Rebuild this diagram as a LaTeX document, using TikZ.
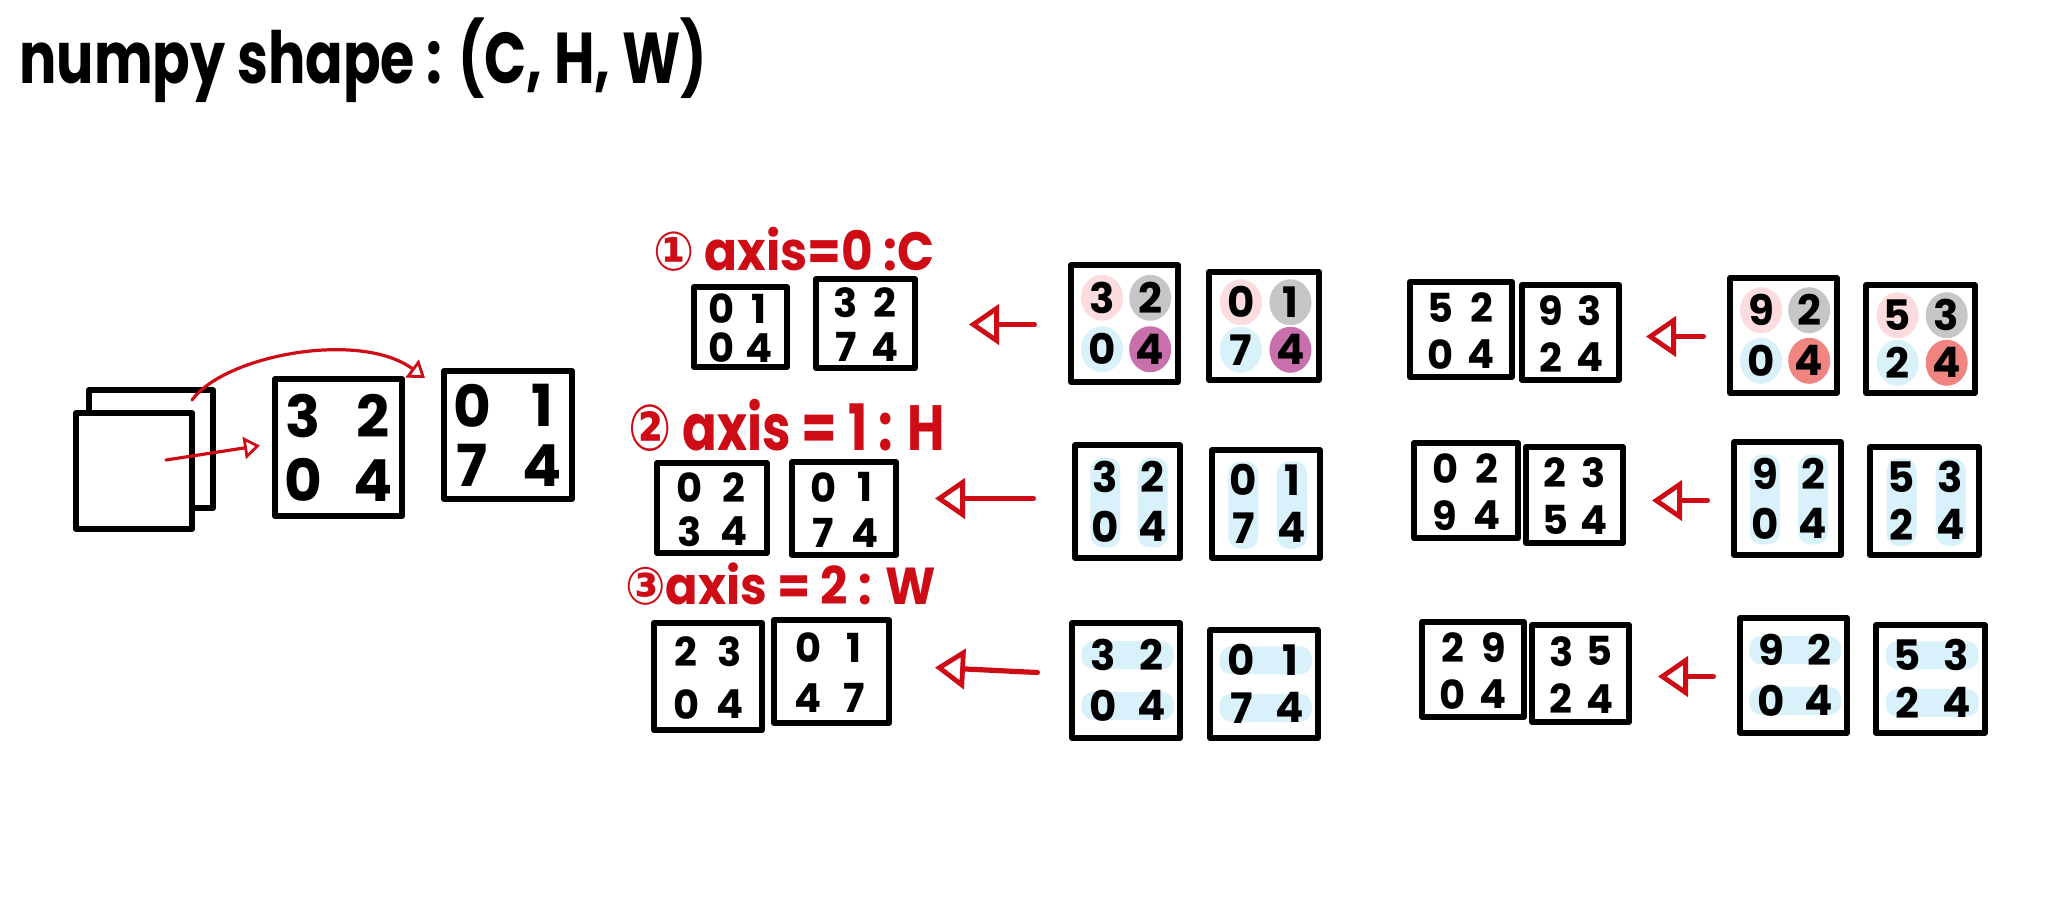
\documentclass[tikz,border=0pt]{standalone}
\usepackage{fontspec}
\setmainfont{Poppins}
\newfontfamily\symfont{DejaVu Sans}
\usetikzlibrary{arrows.meta,calc,fit}
\definecolor{inkred}{RGB}{205,12,22}
\definecolor{pinkc}{RGB}{252,220,222}
\definecolor{grayc}{RGB}{198,198,200}
\definecolor{bluec}{RGB}{216,241,250}
\definecolor{purplec}{RGB}{200,112,172}
\definecolor{salmonc}{RGB}{240,132,128}
\pgfdeclarelayer{paper}
\pgfdeclarelayer{bg}
\pgfsetlayers{paper,bg,main}
\tikzset{
  box/.style={draw=black, line width=3pt, inner sep=0pt, line join=round},
  inbox/.style={box, line width=2.6pt},
  dig/.style={font=\fontsize{21}{21}\selectfont\bfseries, inner sep=0pt, text=black},
  smalldig/.style={font=\fontsize{20}{20}\selectfont\bfseries, inner sep=0pt, text=black},
  bigdig/.style={font=\fontsize{29}{29}\selectfont\bfseries, inner sep=0pt, text=black},
  rarrow/.style={draw=inkred, line width=2.6pt, line cap=round,
    -{Triangle[open, length=15pt, width=20pt, line width=2.4pt]}},
  smallarrow/.style={draw=inkred, line width=1.6pt, line cap=round,
    -{Triangle[open, length=8pt, width=11pt, line width=1.4pt]}},
  titletext/.style={font=\fontsize{36}{36}\selectfont\bfseries, inner sep=0pt, anchor=base west, xscale=0.77},
  lab/.style={text=inkred, inner sep=0pt, anchor=base west},
  band/.style={fill=bluec, rounded corners=6pt}
}
\def\fxa{0.29}\def\fxb{0.71}\def\fya{0.28}\def\fyb{0.72}
\def\boxstyle{box}\def\digstyle{dig}
\newcommand\numbox[9]{%
  \node[\boxstyle, fit={(#2,#3) (#4,#5)}] (#1) {};
  \pgfmathsetmacro\nbxa{#2+\fxa*(#4-#2)}%
  \pgfmathsetmacro\nbxb{#2+\fxb*(#4-#2)}%
  \pgfmathsetmacro\nbya{#3+\fya*(#5-#3)}%
  \pgfmathsetmacro\nbyb{#3+\fyb*(#5-#3)}%
  \node[\digstyle] (#1a) at (\nbxa,\nbya) {#6};
  \node[\digstyle] (#1b) at (\nbxb,\nbya) {#7};
  \node[\digstyle] (#1c) at (\nbxa,\nbyb) {#8};
  \node[\digstyle] (#1d) at (\nbxb,\nbyb) {#9};
}
\newcommand\spots[5]{% name, colours a b c d
  \begin{pgfonlayer}{bg}
  \fill[#2] (#1a) ellipse [x radius=21, y radius=23];
  \fill[#3] (#1b) ellipse [x radius=21, y radius=23];
  \fill[#4] (#1c) ellipse [x radius=21, y radius=23];
  \fill[#5] (#1d) ellipse [x radius=21, y radius=23];
  \end{pgfonlayer}
}
\newcommand\colbands[1]{%
  \begin{pgfonlayer}{bg}
  \fill[band] ($(#1a)+(-15,-19)$) rectangle ($(#1c)+(15,21)$);
  \fill[band] ($(#1b)+(-15,-19)$) rectangle ($(#1d)+(15,21)$);
  \end{pgfonlayer}
}
\newcommand\rowbands[1]{%
  \begin{pgfonlayer}{bg}
  \fill[band] ($(#1a)+(-22,-14)$) rectangle ($(#1b)+(22,14)$);
  \fill[band] ($(#1c)+(-22,-14)$) rectangle ($(#1d)+(22,14)$);
  \end{pgfonlayer}
}
\newcommand\setres{\def\boxstyle{box}\def\digstyle{smalldig}\def\fxa{0.3}\def\fxb{0.7}\def\fya{0.27}\def\fyb{0.76}}
\newcommand\setinp{\def\boxstyle{inbox}\def\digstyle{dig}\def\fxa{0.29}\def\fxb{0.74}\def\fya{0.28}\def\fyb{0.72}}
\begin{document}
\begin{tikzpicture}[x=0.5pt,y=-0.5pt]
\begin{pgfonlayer}{paper}
\fill[white] (0,0) rectangle (2048,911);
\end{pgfonlayer}
\useasboundingbox (0,0) rectangle (2048,911);

% title
\node[titletext] (title) at (19,83) {numpy shape : (C, H, W)};

% left: stacked channels and two matrices
\node[box, fill=white, fit={(89,390) (213,508)}] (stackB) {};
\node[box, fill=white, fit={(76,413) (192,529)}] (stackF) {};
\def\fxa{0.22}\def\fxb{0.77}\def\fya{0.27}\def\fyb{0.74}\def\digstyle{bigdig}
\numbox{ch0}{275}{379}{402}{516}{3}{2}{0}{4}
\numbox{ch1}{444}{371}{572}{499}{0}{1}{7}{4}
\coordinate (frontpt) at (166,460);
\coordinate (backpt) at (192,400);
\draw[smallarrow] (frontpt) -- ($(ch0.west)+(-12,-2)$);
\draw[smallarrow] (backpt) .. controls (225,355) and (360,330) .. ($(ch1.north west)+(-16,10)$);

% labels
\node[lab, font=\fontsize{27}{27}\selectfont\bfseries, xscale=0.9] (lab1) at (653,270) {{\symfont ①} axis=0 :C};
\node[lab, font=\fontsize{32}{32}\selectfont\bfseries, xscale=0.8] (lab2) at (628,450) {{\symfont ②} axis = 1 : H};
\node[lab, font=\fontsize{26}{26}\selectfont\bfseries, xscale=0.92] (lab3) at (625,604) {{\symfont ③}axis = 2 : W};

% row 1 (axis=0)
\setres
\numbox{rA}{694}{287}{787}{367}{0}{1}{0}{4}
\numbox{rB}{816}{279}{915}{368}{3}{2}{7}{4}
\setinp
\numbox{inA}{1071}{265}{1178}{382}{3}{2}{0}{4}
\numbox{inB}{1209}{272}{1319}{380}{0}{1}{7}{4}
\setres
\numbox{rC}{1410}{282}{1512}{377}{5}{2}{0}{4}
\numbox{rD}{1522}{285}{1619}{380}{9}{3}{2}{4}
\setinp
\numbox{inC}{1730}{278}{1837}{393}{9}{2}{0}{4}
\numbox{inD}{1866}{285}{1975}{393}{5}{3}{2}{4}
\spots{inA}{pinkc}{grayc}{bluec}{purplec}
\spots{inB}{pinkc}{grayc}{bluec}{purplec}
\spots{inC}{pinkc}{grayc}{bluec}{salmonc}
\spots{inD}{pinkc}{grayc}{bluec}{salmonc}
\draw[rarrow] ($(inA.west)+(-34,1)$) -- ($(rB.east |- inA.west)+(51,1)$);
\draw[rarrow] ($(inC.west)+(-24,1)$) -- ($(rD.east |- inC.west)+(24,1)$);

% row 2 (axis=1)
\setres
\numbox{rE}{657}{463}{767}{553}{0}{2}{3}{4}
\numbox{rF}{792}{462}{896}{555}{0}{1}{7}{4}
\setinp
\numbox{inE}{1075}{445}{1180}{558}{3}{2}{0}{4}
\numbox{inF}{1212}{450}{1320}{558}{0}{1}{7}{4}
\setres
\numbox{rG}{1414}{443}{1518}{538}{0}{2}{9}{4}
\numbox{rH}{1526}{447}{1623}{543}{2}{3}{5}{4}
\setinp
\numbox{inG}{1734}{442}{1841}{555}{9}{2}{0}{4}
\numbox{inH}{1870}{447}{1979}{555}{5}{3}{2}{4}
\colbands{inE}
\colbands{inF}
\colbands{inG}
\colbands{inH}
\draw[rarrow] ($(inE.west)+(-39,-3)$) -- ($(rF.east |- inE.west)+(36,-3)$);
\draw[rarrow] ($(inG.west)+(-24,2)$) -- ($(rH.east |- inG.west)+(26,2)$);

% row 3 (axis=2)
\setres
\numbox{rI}{654}{623}{762}{730}{2}{3}{0}{4}
\numbox{rJ}{774}{620}{889}{723}{0}{1}{4}{7}
\setinp
\numbox{inI}{1072}{623}{1180}{738}{3}{2}{0}{4}
\numbox{inJ}{1210}{630}{1318}{738}{0}{1}{7}{4}
\setres
\numbox{rK}{1422}{622}{1524}{717}{2}{9}{0}{4}
\numbox{rL}{1532}{625}{1629}{722}{3}{5}{2}{4}
\setinp
\numbox{inK}{1740}{618}{1847}{733}{9}{2}{0}{4}
\numbox{inL}{1876}{625}{1985}{733}{5}{3}{2}{4}
\rowbands{inI}
\rowbands{inJ}
\rowbands{inK}
\rowbands{inL}
\draw[rarrow] ($(inI.west)+(-32,-8)$) -- ($(rJ.east)+(43,-4)$);
\draw[rarrow] ($(inK.west)+(-24,1)$) -- ($(rL.east |- inK.west)+(26,1)$);
\end{tikzpicture}
\end{document}
